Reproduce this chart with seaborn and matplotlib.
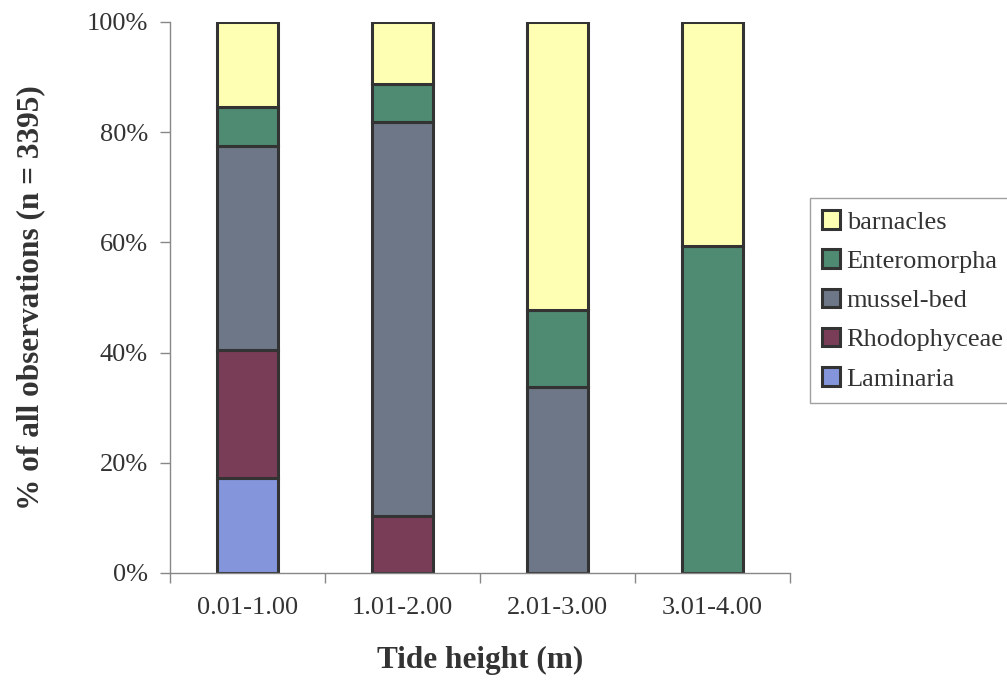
import numpy as np
import pandas as pd
import matplotlib
matplotlib.use("Agg")
import matplotlib.pyplot as plt
import seaborn as sns

# Percent of observations per tide-height band
tide_bands = ["0.01-1.00", "1.01-2.00", "2.01-3.00", "3.01-4.00"]
laminaria = [17.3, 0.0, 0.0, 0.0]
rhodophyceae = [23.2, 10.3, 0.0, 0.0]
mussel_bed = [37.0, 71.5, 33.8, 0.0]
enteromorpha = [7.0, 7.0, 14.0, 59.3]
barnacles = [15.5, 11.2, 52.2, 40.7]

groups = ["Laminaria", "Rhodophyceae", "mussel-bed", "Enteromorpha", "barnacles"]
colors = ["#8595dc", "#7a3d57", "#6d7788", "#4f8a72", "#ffffb3"]

df = pd.DataFrame({
    "band": tide_bands,
    "Laminaria": laminaria,
    "Rhodophyceae": rhodophyceae,
    "mussel-bed": mussel_bed,
    "Enteromorpha": enteromorpha,
    "barnacles": barnacles,
})

sns.set_style("white")
plt.rcParams["font.family"] = ["Liberation Serif", "DejaVu Serif"]

fig = plt.figure(figsize=(10.07, 6.81), dpi=100)
ax = fig.add_axes([0.169, 0.1586, 0.6155, 0.8091])

bottom = np.zeros(len(tide_bands))
for grp, col in zip(groups, colors):
    sns.barplot(data=df, x="band", y=grp, bottom=bottom, color=col,
                saturation=1, width=0.39, edgecolor="#333333", linewidth=2.2,
                label=grp, ax=ax)
    bottom += df[grp].to_numpy()

handles, labels = ax.get_legend_handles_labels()
if ax.get_legend() is not None:
    ax.get_legend().remove()

ax.set_xlim(-0.5, 3.5)
ax.set_ylim(0, 100)
ax.set_yticks(np.arange(0, 101, 20))
ax.set_yticklabels([f"{v}%" for v in range(0, 101, 20)], fontsize=19, color="#333333")
ax.set_xticks(range(len(tide_bands)))
ax.set_xticklabels(tide_bands, fontsize=19, color="#333333")
ax.set_xticks(np.arange(-0.5, 3.6, 1.0), minor=True)
ax.tick_params(axis="x", which="major", length=0, pad=17, bottom=False)
ax.tick_params(axis="x", which="minor", length=7, width=1, color="#888888",
               direction="out", bottom=True)
ax.tick_params(axis="y", length=7, width=1, color="#888888", direction="out",
               left=True, pad=9)

for s in ["top", "right"]:
    ax.spines[s].set_visible(False)
for s in ["left", "bottom"]:
    ax.spines[s].set_color("#888888")
    ax.spines[s].set_linewidth(1)

ax.set_xlabel("Tide height (m)", fontsize=22.5, fontweight="bold", color="#333333", labelpad=20)
ax.set_ylabel("% of all observations (n = 3395)", fontsize=22.5, fontweight="bold",
              color="#333333", labelpad=30)

leg = fig.legend(handles[::-1], labels[::-1], loc="upper left",
                 bbox_to_anchor=(0.804, 0.709), borderaxespad=0, fontsize=19,
                 frameon=True, fancybox=False, edgecolor="#888888",
                 handlelength=0.7, handleheight=0.7, handletextpad=0.25,
                 labelspacing=0.6, borderpad=0.45)
leg.get_frame().set_linewidth(1)
for t in leg.get_texts():
    t.set_color("#333333")

fig.savefig("out.png", dpi=100)
